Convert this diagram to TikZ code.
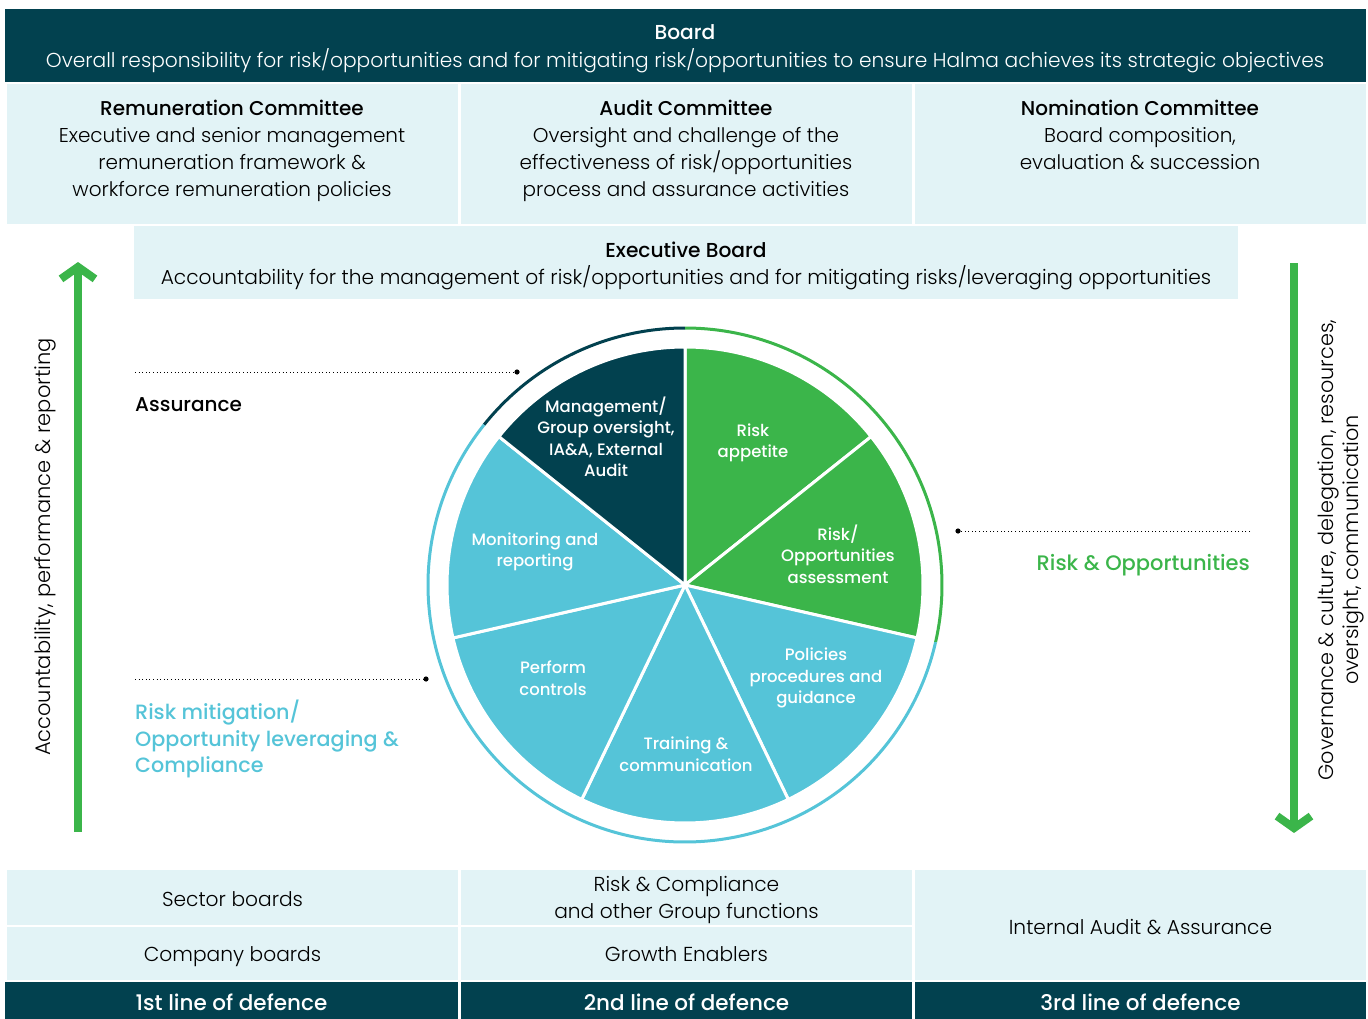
\documentclass[tikz,border=0pt]{standalone}
\usepackage{fontspec}
\setmainfont{Poppins}[UprightFont={* Light},BoldFont={* Medium}]
\usetikzlibrary{arrows.meta,positioning}
\definecolor{deep}{HTML}{02414F}
\definecolor{leaf}{HTML}{3BB54A}
\definecolor{sky}{HTML}{55C4D8}
\definecolor{pale}{HTML}{E2F3F6}
\newcommand{\fsz}[2]{\fontsize{#1}{#2}\selectfont}

\begin{document}
\begin{tikzpicture}[x=1pt,y=1pt,
 block/.style={inner sep=0pt,outer sep=0pt,anchor=north west},
 words/.style={align=center,inner sep=0pt},
 slice/.style={words,text=white,font=\bfseries\fsz{16.5}{21.5}},
 rule/.style={line width=1pt,dash pattern=on 1pt off 2.6pt},
 flow/.style={leaf,line width=8pt,-{Straight Barb[length=12pt,width=34pt]}}]
\useasboundingbox (0,0) rectangle (1368,-1019);
% board and committees
\node[block,fill=deep,minimum width=1361,minimum height=73] (board) at (5,-9) {};
\node[words,text=white,font=\fsz{20.2}{28}] (boardtxt) at (685,-49) {\textbf{Board}\\Overall responsibility for risk/opportunities and for mitigating risk/opportunities to ensure Halma achieves its strategic objectives};
\node[block,fill=pale,minimum width=451,minimum height=140] (rem) at (7,-84) {};
\node[block,fill=pale,minimum width=451,minimum height=140] (aud) at (461,-84) {};
\node[block,fill=pale,minimum width=451,minimum height=140] (nom) at (915,-84) {};
\node[words,font=\fsz{20}{27}] (remtxt) at (232,-151) {\textbf{Remuneration Committee}\\Executive and senior management\\remuneration framework \&\\workforce remuneration policies};
\node[words,font=\fsz{20}{27}] (audtxt) at (686,-151) {\textbf{Audit Committee}\\Oversight and challenge of the\\effectiveness of risk/opportunities\\process and assurance activities};
\node[words,font=\fsz{20}{27}] (nomtxt) at (1140,-135) {\textbf{Nomination Committee}\\Board composition,\\evaluation \& succession};
\node[block,fill=pale,minimum width=1104,minimum height=73] (exec) at (134,-226) {};
\node[words,font=\fsz{20.2}{27}] (exectxt) at (686,-266) {\textbf{Executive Board}\\Accountability for the management of risk/opportunities and for mitigating risks/leveraging opportunities};

% wheel
\coordinate (hub) at (685,-585);
\foreach \k/\c in {0/leaf,1/leaf,2/sky,3/sky,4/sky,5/sky,6/deep}
  \filldraw[fill=\c,draw=white,line width=3pt,line join=round] (hub) -- ++({90-\k*360/7}:238) arc[start angle={90-\k*360/7},delta angle=-360/7,radius=238] -- cycle;
\draw[deep,line width=3pt] ([shift={(90:257)}]hub) arc[start angle=90,delta angle=360/7,radius=257];
\draw[leaf,line width=3pt] ([shift={(90:257)}]hub) arc[start angle=90,delta angle=-720/7,radius=257];
\draw[sky,line width=3pt] ([shift={(90+360/7:257)}]hub) arc[start angle=90+360/7,delta angle=4*360/7,radius=257];
\node[slice] (mgmt) at (606,-437) {Management/\\Group oversight,\\IA\&A, External\\Audit};
\node[slice] (appetite) at (753,-443) {Risk\\appetite};
\node[slice] (assess) at (838,-554) {Risk/\\Opportunities\\assessment};
\node[slice] (policy) at (816,-678) {Policies\\procedures and\\guidance};
\node[slice] (train) at (686,-754) {Training \&\\communication};
\node[slice] (perform) at (553,-678) {Perform\\controls};
\node[slice] (monitor) at (535,-552) {Monitoring and\\reporting};

% pointers
\coordinate (assdot) at (517,-372); \coordinate (assend) at (135,-372);
\coordinate (mitdot) at (426,-679); \coordinate (mitend) at (135,-679);
\coordinate (oppdot) at (958,-531); \coordinate (oppend) at (1250,-531);
\draw[rule] (assend) -- (assdot); \draw[rule] (mitend) -- (mitdot); \draw[rule] (oppend) -- (oppdot);
\foreach \d in {assdot,mitdot,oppdot} \fill (\d) circle (2.6);
\node[anchor=west,inner sep=0pt,font=\bfseries\fsz{20}{26}] (assur) at (135,-405) {Assurance};
\node[anchor=west,inner sep=0pt,align=left,text=sky,font=\bfseries\fsz{20.7}{26.5}] (mitig) at (135,-739) {Risk mitigation/\\Opportunity leveraging \&\\Compliance};
\node[anchor=east,inner sep=0pt,text=leaf,font=\bfseries\fsz{21}{26}] (riskopp) at (1250,-565) {Risk \& Opportunities};

% side arrows
\coordinate (upfoot) at (78,-832); \coordinate (uphead) at (78,-262);
\coordinate (dnfoot) at (1294,-263); \coordinate (dnhead) at (1294,-833);
\draw[flow] (upfoot) -- (uphead); \draw[flow] (dnfoot) -- (dnhead);
\node[words,rotate=90,font=\fsz{21}{25}] (upnote) at (45,-547) {Accountability, performance \& reporting};
\node[words,rotate=90,font=\fsz{20.8}{25}] (dnnote) at (1341,-550) {Governance \& culture, delegation, resources,\\oversight, communication};

% lines of defence
\node[block,fill=pale,minimum width=451,minimum height=55] (sector) at (7,-870) {};
\node[block,fill=pale,minimum width=451,minimum height=53] (company) at (7,-927) {};
\node[block,fill=pale,minimum width=451,minimum height=55] (riskcomp) at (461,-870) {};
\node[block,fill=pale,minimum width=451,minimum height=53] (growth) at (461,-927) {};
\node[block,fill=pale,minimum width=451,minimum height=110] (internal) at (915,-870) {};
\node[block,fill=deep,minimum width=453,minimum height=46] (first) at (5,-982) {};
\node[block,fill=deep,minimum width=451,minimum height=46] (second) at (461,-982) {};
\node[block,fill=deep,minimum width=451,minimum height=46] (third) at (915,-982) {};
\node[words,font=\fsz{20.2}{27}] (sectortxt) at ([yshift=-2]sector.center) {Sector boards};
\node[words,font=\fsz{20.2}{27}] (companytxt) at ([yshift=-3]company.center) {Company boards};
\node[words,font=\fsz{20.2}{27}] (riskcomptxt) at ([yshift=-3]riskcomp.center) {Risk \& Compliance\\and other Group functions};
\node[words,font=\fsz{20.2}{27}] (growthtxt) at ([yshift=-1]growth.center) {Growth Enablers};
\node[words,font=\fsz{20.2}{27}] (internaltxt) at ([yshift=-2]internal.center) {Internal Audit \& Assurance};
\foreach \n/\t in {first/1st,second/2nd,third/3rd}
  \node[words,text=white,font=\bfseries\fsz{21.5}{27}] (\n txt) at ([yshift=3]\n.center) {\t{} line of defence};
\end{tikzpicture}
\end{document}
